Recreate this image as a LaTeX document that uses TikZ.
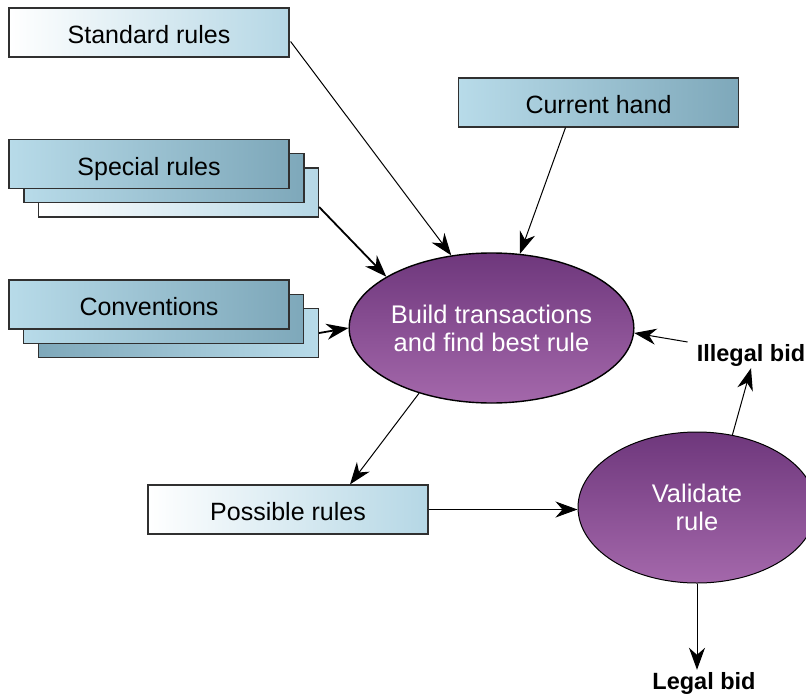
\documentclass[tikz,border=0pt]{standalone}
\usepackage{fontspec}
\setmainfont{Liberation Sans}
\usetikzlibrary{shapes.geometric,arrows.meta,calc}

\definecolor{paleblue}{HTML}{B5D7E5}
\definecolor{lightblue}{HTML}{B8DBE9}
\definecolor{steelblue}{HTML}{7EA8BA}
\definecolor{purpletop}{HTML}{6E377C}
\definecolor{purplebot}{HTML}{A468AB}
\definecolor{edgegray}{HTML}{303030}

\tikzset{
  card/.style={draw=edgegray, line width=1.2pt, minimum width=280pt, minimum height=49pt,
    inner sep=0pt, text height=22pt, text depth=0pt, font=\fontsize{25}{28}\selectfont},
  pale/.style={card, left color=white, right color=paleblue},
  tinted/.style={card, left color=lightblue, right color=steelblue},
  tintedrev/.style={card, left color=steelblue, right color=lightblue},
  process/.style={ellipse, draw=black, line width=1.4pt, inner sep=0pt,
    top color=purpletop, bottom color=purplebot, text=white, align=center,
    font=\fontsize{25.5}{28}\selectfont},
  outcome/.style={inner sep=2pt, font=\fontsize{23.5}{28}\selectfont\bfseries},
  flow/.style={line width=1pt, -{Stealth[length=22pt, width=16pt, inset=7pt]}},
  boldflow/.style={flow, line width=1.8pt},
}

\begin{document}
\begin{tikzpicture}[x=1pt, y=-1pt]
  \useasboundingbox (0,0) rectangle (806,696);
  \clip (0,0) rectangle (806,696);

  % input sources
  \node[pale] (std) at (149,32.5) {Standard rules};
  \node[tinted] (cur) at (598.5,102.5) {Current hand};

  % stacked special rules
  \node[pale] (sp3) at (178.5,192.5) {};
  \node[tinted] (sp2) at (164,178) {};
  \node[tinted] (sp1) at (149,164) {Special rules};

  % stacked conventions
  \node[tintedrev] (cv3) at (178.5,333) {};
  \node[tinted] (cv2) at (163.5,319) {};
  \node[tinted] (cv1) at (149,304.5) {Conventions};

  % processes
  \node[process, minimum width=235pt, minimum height=150pt] (build) at (491.5,328)
    {\raisebox{-4pt}[\height][\depth]{\begin{tabular}{@{}c@{}}Build transactions\\and find best rule\end{tabular}}};
  \node[process, line width=1pt, minimum width=238pt, minimum height=151pt] (valid) at (697,507.5)
    {Validate\\rule};

  \node[pale] (pos) at (288,509.5) {Possible rules};

  % outcomes
  \node[outcome] (illegal) at (751,355) {Illegal bid};
  \node[outcome] (legal) at (704,683) {Legal bid};

  % connectors
  \draw[flow] ($(std.east)+(1,9)$) -- (build.119);
  \draw[flow] ($(cur.south)+(-33,0)$) -- (build.69);
  \draw[boldflow] ($(sp3.east)+(0,14.5)$) -- (build.154);
  \draw[boldflow] (cv3.east) -- (build.west);
  \draw[flow] ($(illegal.west)+(-7,-13)$) -- (build.358);
  \draw[flow] (build.222) -- ($(pos.north)+(62,0)$);
  \draw[flow] (pos.east) -- (pos.east -| valid.west);
  \draw[flow] (valid.64) -- (illegal.south);
  \draw[flow] (valid.south) -- (valid.south |- legal.north);
\end{tikzpicture}
\end{document}
